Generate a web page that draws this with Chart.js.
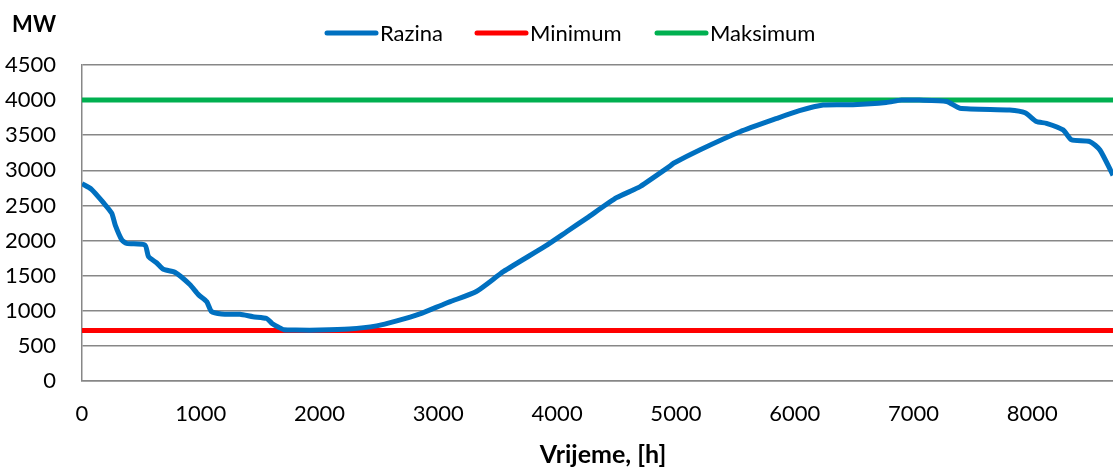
<!DOCTYPE html>
<html>
<head>
<meta charset="utf-8">
<script src="https://cdn.jsdelivr.net/npm/chart.js@4/dist/chart.umd.min.js"></script>
<style>
  html, body { margin: 0; padding: 0; background: #fff; overflow: hidden; }
  #wrap { width: 1113px; height: 468px; position: relative; }
</style>
</head>
<body>
<div id="wrap"><canvas id="c" width="1113" height="468"></canvas></div>
<script>
// ---- data ----
const hours = [0, 80, 180, 250, 280, 335, 375, 530, 560, 630, 685, 785, 910, 980, 1050, 1090, 1175, 1330, 1440, 1555, 1600, 1655, 1700, 1800, 2000, 2250, 2480, 2650, 2845, 3040, 3100, 3320, 3550, 3900, 4080, 4250, 4500, 4640, 4700, 4950, 4980, 5200, 5540, 5850, 6040, 6240, 6490, 6770, 6900, 7050, 7280, 7390, 7810, 7940, 8035, 8120, 8260, 8330, 8485, 8570, 8680];
const razina = [2810, 2730, 2540, 2390, 2220, 2010, 1960, 1935, 1770, 1680, 1590, 1545, 1370, 1230, 1130, 990, 955, 950, 915, 890, 820, 765, 730, 725, 725, 740, 785, 855, 955, 1090, 1130, 1275, 1560, 1920, 2125, 2320, 2610, 2720, 2770, 3060, 3100, 3290, 3550, 3740, 3850, 3930, 3935, 3965, 4000, 4000, 3980, 3885, 3860, 3820, 3695, 3670, 3575, 3435, 3410, 3290, 2930];
const minimumValue = 720;
const maksimumValue = 4000;
const seriesNames = ['Razina', 'Minimum', 'Maksimum'];
const seriesColors = ['#0070C0', '#FF0000', '#00B050'];
const xTickValues = [0, 1000, 2000, 3000, 4000, 5000, 6000, 7000, 8000];
const yTickValues = [0, 500, 1000, 1500, 2000, 2500, 3000, 3500, 4000, 4500];
const xMax = 8680;
const yUnit = 'MW';
const xTitle = 'Vrijeme, [h]';

const FONT = 'Lato, "Open Sans", sans-serif';

function build() {
  const razinaPts = hours.map((h, i) => ({ x: h, y: razina[i] }));
  const minPts = [{ x: 0, y: minimumValue }, { x: xMax, y: minimumValue }];
  const maxPts = [{ x: 0, y: maksimumValue }, { x: xMax, y: maksimumValue }];

  const textPlugin = {
    id: 'texts',
    afterDraw(chart) {
      const ctx = chart.ctx;
      ctx.save();
      ctx.fillStyle = '#000';
      ctx.font = 'bold 22px ' + FONT;
      ctx.textAlign = 'right';
      ctx.textBaseline = 'middle';
      ctx.fillText(yUnit, 56, 25);
      ctx.font = 'bold 25px ' + FONT;
      ctx.textAlign = 'center';
      ctx.fillText(xTitle, 603, 455);
      const items = [
        { x0: 327, x1: 376, tx: 380 },
        { x0: 477, x1: 526, tx: 530 },
        { x0: 657, x1: 706, tx: 710 }
      ];
      ctx.font = '22px ' + FONT;
      ctx.textAlign = 'left';
      items.forEach((it, i) => {
        ctx.strokeStyle = seriesColors[i];
        ctx.lineWidth = 5;
        ctx.lineCap = 'round';
        ctx.beginPath();
        ctx.moveTo(it.x0, 33);
        ctx.lineTo(it.x1, 33);
        ctx.stroke();
        ctx.fillStyle = '#000';
        ctx.fillText(seriesNames[i], it.tx, 34);
      });
      ctx.restore();
    }
  };

  new Chart(document.getElementById('c'), {
    type: 'line',
    data: {
      datasets: [
        { label: seriesNames[0], data: razinaPts, borderColor: seriesColors[0], borderWidth: 5, pointRadius: 0, tension: 0.2, order: 0 },
        { label: seriesNames[1], data: minPts, borderColor: seriesColors[1], borderWidth: 5, pointRadius: 0, order: 1 },
        { label: seriesNames[2], data: maxPts, borderColor: seriesColors[2], borderWidth: 5, pointRadius: 0, order: 2 }
      ]
    },
    options: {
      responsive: false,
      animation: false,
      devicePixelRatio: 1,
      layout: { padding: { top: 65, right: 0, left: 0, bottom: 0 } },
      plugins: { legend: { display: false }, tooltip: { enabled: false } },
      scales: {
        x: {
          type: 'linear',
          min: 0,
          max: xMax,
          afterBuildTicks(scale) { scale.ticks = xTickValues.map(v => ({ value: v })); },
          afterFit(scale) { scale.height = 87; },
          grid: { display: false, drawTicks: false },
          border: { display: true, color: '#878787', width: 1.5 },
          ticks: { padding: 20, color: '#000', font: { family: FONT, size: 22 }, maxRotation: 0, autoSkip: false, callback: v => String(v) }
        },
        y: {
          min: 0,
          max: 4500,
          afterBuildTicks(scale) { scale.ticks = yTickValues.map(v => ({ value: v })); },
          afterFit(scale) { scale.width = 82; },
          grid: { color: '#878787', lineWidth: 1.5, drawTicks: false },
          border: { display: true, color: '#878787', width: 1.5 },
          ticks: { padding: 26, color: '#000', font: { family: FONT, size: 22 }, callback: v => String(v) }
        }
      }
    },
    plugins: [textPlugin]
  });
}

Promise.all([
  document.fonts.load('22px Lato'),
  document.fonts.load('bold 22px Lato'),
  document.fonts.load('bold 25px Lato')
]).then(build, build);
</script>
</body>
</html>
